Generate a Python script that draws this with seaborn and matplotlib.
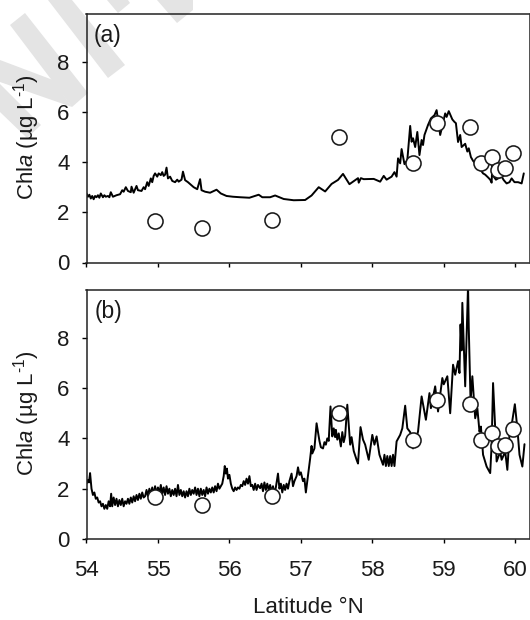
import matplotlib
matplotlib.use("Agg")
import matplotlib.pyplot as plt
from matplotlib.patches import Polygon
from matplotlib.transforms import Affine2D
import seaborn as sns

# Panel (a) line, in stretches
lat_a1 = [54.00,54.02,54.04,54.06,54.08,54.10,54.12,54.14,54.16,54.18,54.20,54.23,54.25,54.27,54.30,54.32,54.34,54.37,54.42,54.47,54.50,54.52,54.55,54.58,54.62,54.63,54.66,54.70,54.72,54.77]
chl_a1 = [2.75,2.62,2.70,2.55,2.65,2.52,2.65,2.60,2.68,2.58,2.75,2.60,2.68,2.62,2.65,2.60,2.80,2.62,2.68,2.72,2.88,2.82,3.00,2.85,2.80,3.02,2.78,3.05,2.88,2.85]
lat_a2 = [54.80,54.82,54.85,54.87,54.90,54.92,54.94,54.96,54.99,55.01,55.04,55.06,55.08,55.10,55.12,55.14,55.17,55.20,55.24,55.27,55.29,55.33,55.35,55.38,55.42,55.46,55.50,55.55,55.59,55.61,55.66,55.73,55.82,55.88,55.96]
chl_a2 = [3.00,2.92,3.20,3.05,3.35,3.20,3.45,3.55,3.42,3.55,3.48,3.60,3.45,3.50,3.78,3.35,3.42,3.25,3.20,3.30,3.22,3.30,3.62,3.28,3.20,3.10,3.00,2.92,3.32,2.88,2.82,2.78,2.90,2.75,2.65]
lat_a3 = [56.05,56.15,56.28,56.41,56.46,56.57,56.64,56.76,56.90,57.06,57.15,57.25,57.34,57.43,57.52,57.59,57.68,57.80,57.81,57.84,57.88,58.02,58.11,58.16,58.20,58.27,58.31,58.34,58.36,58.39,58.41,58.45,58.49]
chl_a3 = [2.62,2.60,2.58,2.70,2.60,2.60,2.67,2.53,2.48,2.49,2.67,3.00,2.83,3.13,3.29,3.53,3.12,3.36,3.18,3.36,3.32,3.33,3.22,3.45,3.30,3.42,3.60,3.42,4.15,3.95,4.52,3.92,4.08]
lat_a4 = [58.53,58.55,58.57,58.60,58.63,58.66,58.69,58.71,58.73,58.78,58.82,58.87,58.90,58.95,59.02,59.04,59.07,59.12,59.15,59.17,59.20,59.23,59.25,59.30,59.33,59.35,59.38,59.41,59.44]
chl_a4 = [5.44,4.81,4.95,4.60,5.20,4.28,4.88,4.68,5.08,5.48,5.74,5.87,6.07,5.08,5.94,5.80,6.03,5.70,5.60,5.55,4.80,5.08,4.60,4.73,4.42,4.55,4.20,4.05,3.95]
lat_a5 = [59.50,59.55,59.58,59.62,59.65,59.67,59.68,59.70,59.73,59.76,59.81,59.84,59.88,59.92,59.95,59.99,60.04,60.09,60.12]
chl_a5 = [3.75,3.55,3.50,3.39,3.30,3.18,3.88,3.42,3.30,3.35,3.42,3.28,3.15,3.20,3.35,3.20,3.20,3.15,3.55]

# Panel (b) line, in stretches
lat_b1 = [54.00,54.02,54.035,54.05,54.07,54.09,54.11,54.13,54.15,54.17,54.19,54.21,54.23,54.25,54.27,54.29,54.31,54.33,54.345,54.36,54.38,54.40,54.42,54.44,54.46,54.48,54.50,54.52,54.54,54.56,54.58,54.60,54.62,54.64,54.66,54.68,54.70,54.72,54.74,54.76,54.78,54.80,54.82,54.84,54.86,54.88,54.90,54.92,54.94,54.96,54.98]
chl_b1 = [2.20,2.35,2.25,2.62,2.00,1.75,1.85,1.60,1.65,1.45,1.50,1.30,1.40,1.20,1.35,1.20,1.50,1.30,1.80,1.30,1.65,1.35,1.60,1.30,1.55,1.35,1.60,1.30,1.50,1.40,1.60,1.40,1.65,1.45,1.70,1.50,1.75,1.55,1.80,1.60,1.85,1.65,1.70,1.95,1.70,2.00,1.75,2.05,1.75,2.10,1.80]
lat_b2 = [55.00,55.02,55.04,55.06,55.08,55.10,55.12,55.14,55.16,55.18,55.20,55.22,55.24,55.26,55.28,55.30,55.32,55.34,55.36,55.38,55.40,55.42,55.44,55.46,55.48,55.50,55.52,55.54,55.56,55.58,55.60,55.62,55.64,55.66,55.68,55.70,55.72,55.74,55.76,55.78,55.80,55.82,55.84,55.86,55.88,55.90,55.92,55.935,55.95,55.965,55.98]
chl_b2 = [2.05,1.80,2.15,1.80,2.05,1.75,2.10,1.80,2.00,1.70,1.95,1.75,2.00,1.70,2.15,1.75,1.95,1.70,1.90,1.65,1.90,1.70,2.00,1.75,1.95,1.80,2.05,1.75,2.00,1.70,2.00,1.75,1.95,1.70,2.05,1.80,2.00,1.85,2.05,1.85,2.10,1.90,2.20,2.00,2.10,2.20,2.50,2.90,2.60,2.80,2.40]
lat_b3 = [56.00,56.02,56.04,56.06,56.08,56.10,56.12,56.14,56.16,56.18,56.20,56.22,56.24,56.26,56.28,56.30,56.32,56.34,56.36,56.38,56.40,56.43,56.45,56.47,56.49,56.51,56.53,56.55,56.57,56.59,56.61,56.63,56.65,56.68,56.70,56.72,56.74,56.76,56.78,56.80,56.82,56.84,56.87,56.89,56.91,56.94,56.96,56.98,57.00,57.03,57.05,57.07]
chl_b3 = [2.55,2.20,2.00,1.90,2.05,1.95,2.05,2.00,2.15,2.10,2.30,2.15,2.40,2.20,2.50,2.10,2.15,1.95,2.20,1.95,2.15,2.02,2.20,1.90,2.25,1.95,2.20,1.95,2.15,1.85,2.10,1.80,2.05,2.60,2.00,2.20,1.85,2.15,1.95,2.20,2.00,2.30,2.60,2.10,2.30,2.50,2.85,2.55,2.65,2.30,2.40,1.85]
lat_b4 = [57.13,57.15,57.16,57.19,57.22,57.26,57.28,57.31,57.33,57.35,57.37,57.39,57.415,57.44,57.46,57.48,57.49,57.51,57.53,57.56,57.58,57.60,57.62,57.65,57.69,57.71,57.74,57.78,57.80,57.835,57.87,57.90,57.95,58.00,58.03,58.06,58.10,58.15]
chl_b4 = [3.20,3.70,3.40,3.60,4.60,3.90,3.65,3.60,3.85,3.75,4.00,3.90,5.27,4.08,4.40,4.05,4.34,3.95,4.20,3.68,4.25,3.85,4.10,5.34,3.75,4.05,3.50,3.15,3.00,4.45,3.95,3.75,3.15,4.14,3.75,4.08,3.35,2.95]
lat_b5 = [58.17,58.19,58.21,58.23,58.25,58.27,58.29,58.31,58.34,58.39,58.42,58.46,58.49,58.53,58.57,58.64,58.69,58.75,58.80,58.82,58.88,58.92,58.98,59.00,59.05,59.09,59.13,59.16,59.20,59.22,59.235,59.25,59.26,59.30,59.34,59.35,59.375]
chl_b5 = [3.35,2.90,3.30,2.90,3.30,2.90,3.35,2.90,3.88,4.14,4.40,5.30,4.40,4.25,3.60,4.27,5.67,4.74,5.80,5.20,6.07,5.07,6.40,6.15,6.47,5.00,6.93,6.53,7.07,6.60,8.53,7.50,9.39,6.07,10.10,8.40,5.47]
lat_b6 = [59.40,59.44,59.47,59.50,59.52,59.55,59.60,59.65,59.67,59.69,59.72,59.74,59.79,59.81,59.86,59.89,59.925,59.95,59.995,60.03,60.06,60.10,60.13]
chl_b6 = [6.47,4.80,5.20,4.27,4.47,3.35,2.88,2.62,3.75,6.20,4.40,3.08,3.47,3.15,3.47,2.75,4.40,4.53,5.36,4.40,3.35,2.88,3.77]

lat_a = lat_a1 + lat_a2 + lat_a3 + lat_a4 + lat_a5
chl_a = chl_a1 + chl_a2 + chl_a3 + chl_a4 + chl_a5
lat_b = lat_b1 + lat_b2 + lat_b3 + lat_b4 + lat_b5 + lat_b6
chl_b = chl_b1 + chl_b2 + chl_b3 + chl_b4 + chl_b5 + chl_b6

lat_obs = [54.965,55.62,56.59,57.53,58.57,58.91,59.37,59.52,59.67,59.76,59.86,59.97]
chl_obs = [1.66,1.37,1.70,4.99,3.95,5.54,5.38,3.95,4.22,3.69,3.75,4.38]

xticks = [54,55,56,57,58,59,60]
yticks = [0,2,4,6,8]

sns.set_theme(style="white")
plt.rcParams.update({
    "font.family": ["Liberation Sans", "DejaVu Sans"],
    "mathtext.fontset": "custom",
    "mathtext.rm": "Liberation Sans",
    "mathtext.it": "Liberation Sans:italic",
    "mathtext.default": "regular",
})

W, H = 530, 620
fig = plt.figure(figsize=(W/100, H/100), dpi=100, facecolor="white")
px = Affine2D().scale(1/W, -1/H).translate(0, 1) + fig.transFigure

# faint watermark behind the axes
for pts in [
    [(10,25),(25,13),(88,93),(72,107)],
    [(0,60),(53,80),(72,107),(0,82)],
    [(0,84),(41,125),(27,138),(0,112)],
    [(48,0),(72,0),(125,65),(108,78)],
    [(107,0),(128,0),(130,3),(118,13)],
    [(157,0),(193,0),(193,10),(177,23)],
]:
    fig.add_artist(Polygon(pts, closed=True, transform=px, facecolor="#e4e4e4", edgecolor="none", zorder=0))

def make_axes(top, bottom):
    return fig.add_axes([86.5/W, 1-bottom/H, (529.5-86.5)/W, (bottom-top)/H], zorder=2)

ax_a = make_axes(14, 262.5)
ax_b = make_axes(290, 539)

panels = [(ax_a, lat_a, chl_a, "(a)", 0.015), (ax_b, lat_b, chl_b, "(b)", 0.019)]
for ax, lat, chl, tag, tx in panels:
    ax.patch.set_alpha(0)
    sns.lineplot(x=lat, y=chl, ax=ax, estimator=None, sort=False, color="black", linewidth=1.4, zorder=2)
    sns.scatterplot(x=lat_obs, y=chl_obs, ax=ax, s=118, facecolor="white", edgecolor="#1a1a1a", linewidth=1.15, zorder=3, clip_on=False)
    ax.set_xlim(54, 60.2)
    ax.set_ylim(0, 9.9)
    ax.set_xticks(xticks)
    ax.set_yticks(yticks)
    ax.tick_params(axis="y", direction="out", length=3.6, width=1, color="black", labelsize=16, pad=8.5, left=True, labelcolor="#1a1a1a")
    ax.tick_params(axis="x", direction="out", length=2.6, width=1, color="black", labelsize=16, pad=12.5, bottom=True, labelcolor="#1a1a1a")
    for s in ax.spines.values():
        s.set_visible(True)
        s.set_color("#222222")
        s.set_linewidth(1.1)
    ax.set_ylabel(r"Chl$\it{a}$ (µg L$^{\text{-}1}$)", fontsize=16, color="#1a1a1a")
    ax.yaxis.set_label_coords(-0.10, 0.505)
    ax.text(tx, 0.912, tag, transform=ax.transAxes, fontsize=16.5, va="center", ha="left", color="#1a1a1a")

ax_a.tick_params(axis="x", labelbottom=False)
ax_a.set_xlabel("")
ax_b.set_xlabel("Latitude °N", fontsize=16, color="#1a1a1a", labelpad=11.5)

fig.savefig("out.png", dpi=100, facecolor="white")
